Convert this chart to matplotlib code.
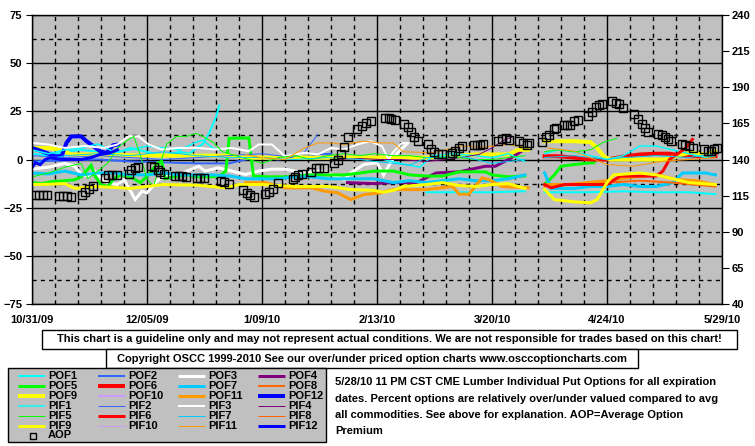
import numpy as np
import matplotlib
matplotlib.use("Agg")
import matplotlib.pyplot as plt
from matplotlib.patches import Rectangle

plt.rcParams['font.family'] = ['Liberation Sans', 'DejaVu Sans']
plt.rcParams['font.weight'] = 'bold'
plt.rcParams['font.size'] = 8

nan = np.nan

# ---------------------------
# Data (x = days since 10/31/09, y = % over/under valued)
# ---------------------------
date_ticks = [0, 35, 70, 105, 140, 175, 210]
date_labels = ["10/31/09", "12/05/09", "1/09/10", "2/13/10", "3/20/10", "4/24/10", "5/29/10"]
left_ticks = [75, 50, 25, 0, -25, -50, -75]
right_ticks = [240, 215, 190, 165, 140, 115, 90, 65, 40]

pof1 = [(0, 3), (5, 2), (10, 4), (15, 5), (20, 4), (25, 3), (30, 6), (35, 4), (40, 2), (45, 4),
        (48, 3), (50, 6), (52, 8), (54, 14), (56, 22), (57, 28), (58, nan),
        (120, -17), (130, -17), (140, -17), (150, -16.5), (152, nan),
        (156, -17), (170, -17), (180, -16.5), (190, -17), (200, -17), (208, -18)]
pif1 = [(0, 5), (5, 3), (10, 5), (15, 6), (20, 8), (25, 4), (30, 5), (35, 7), (40, 6), (45, 5),
        (50, 9), (52, 10), (55, 6), (57, 5), (58, nan),
        (107, 0), (112, -2), (118, -4), (122, 2), (128, 3), (135, 2), (140, 1), (145, 3), (150, -1), (152, nan),
        (156, 3), (160, 5), (165, 4), (170, 2), (175, 0), (180, 2), (185, 7), (190, 7), (195, 5),
        (200, 3), (205, 1), (208, 2)]
pof2 = [(0, -1), (10, -0.5), (20, 0), (30, -1), (40, -1.5), (50, -2), (60, -2), (65, 0), (70, 1),
        (75, 0), (80, 1), (85, 1.7), (88, 2.6), (91, 3)]
pif2 = [(0, 2), (10, 1), (20, 2), (30, 1), (40, 0), (50, 1), (60, 2), (70, 3), (75, 2), (79, 1),
        (83, 4), (87, 13)]
pof3 = [(0, -5), (5, -4), (10, -2), (13, -3.5), (15, -7.8), (17, -8.6), (19, -6), (21, -9.5),
        (23, -12), (26, -13), (28, -10.4), (30, -16.4), (31.4, -20.8), (33.5, -16.4), (35, -17.3),
        (38.5, -10.4), (42.6, -7.8), (44.6, -7.8), (50.7, -3.5), (52.7, -6), (56.8, -4.3), (65, -7.8),
        (69, -6), (73, -5), (77, -5), (83, -7), (88, -6), (91, -7.8), (95, -10.4), (97, -7),
        (101, -2.6), (105, -1.7), (107, -8), (109, -2), (111, 3), (114, 8)]
pif3 = [(0, 8.6), (5, 7.8), (10, 6), (16, 7), (22, 6), (26, 7.8), (29.4, 12), (32.4, 12), (35.5, 7.8),
        (39.5, 5.2), (44.6, 6), (50.7, 6), (55.8, 5.2), (60.8, 6), (66, 4.3), (69, 7.8), (73, 7.8),
        (77, 1.7), (83, 3.5), (87, 2.6), (91, 6), (95, 5.2), (99, 7.8), (103, 9.5), (106.5, 6.9),
        (108.5, 0), (110, 4), (112.5, 8.5), (114.5, 8.5)]
pof4 = [(96, -12), (104, -12.5), (110, -12), (117, -12), (120, -9.5), (123, -7), (130, -6.4),
        (138, -3.5), (141, -3.5), (145, 0), (149, 4.3)]
pif4 = [(93, 0), (100, 0.5), (106, 0), (112, 0), (120, -1), (126, 0), (130, 0.9), (136, 2.6),
        (140, 6), (144, 10.4), (146, 11.5)]
pof5 = [(0, -12), (3, -12.5), (6, -11.5), (10, -11), (13, -10.5), (15, -9), (17, -5), (18, -3),
        (19, -8), (21, -13), (23, -14), (25, -10), (27, -8), (30, -9), (33, -12), (36, -7), (38, -2),
        (39.5, -1), (40.5, -10), (43, -9), (47, -8), (50, -9), (54, -9), (57, -8.7), (59, -6),
        (60, 11), (66, 11.2), (67.4, -8.6), (72, -9), (78, -9), (84, -8), (90, -8), (95, -8),
        (100, -7), (104, -6), (110, -6), (115, -8), (120, -8.6), (125, -8.6), (130, -6.4),
        (138, -6.4), (140, -8), (145, -9), (150, -8.5), (152, nan),
        (156, -13), (159, -8), (161, -3.5), (165, -2.6), (170, -1.7), (171, -1.7)]
pif5 = [(0, -9), (5, -7), (10, -4), (15, -2), (17, -10), (20, -6), (23, -2), (26, 6), (29, 10),
        (31, 12), (33, 2), (35, -10), (37, -14), (39, -2), (41, 8), (44, 12), (47, 12), (50, 13.5),
        (52, 12), (55, 9), (58, 4), (62, 2), (66, 0), (70, -2), (75, 1), (80, 2), (85, 0), (90, 2),
        (95, 3), (100, 2), (104, 3), (110, 2), (115, 2), (120, 1), (125, 1), (130, 1), (135, 0),
        (140, 0), (145, 1), (150, 2), (152, nan),
        (156, 4), (160, 5), (165, 4), (170, 5), (174, 9), (178, 11)]
pof6 = [(156, 1.7), (160, 1.7), (165, 1), (170, 0), (175, 0), (180, 1.5), (185, 2.6), (190, 3),
        (194, 3), (199, 1.7), (208, 1.7)]
pif6 = [(156, -13), (158, -14.7), (162, -13), (170, -13), (175, -13), (179, -8.6), (185, -8.6),
        (190, -8.6), (192, -6), (194, 0), (197, 3.5), (199, 6), (201, 10.4)]
pof7 = [(0, -7), (5, -7.5), (10, -6), (15, -8), (20, -7), (25, -7), (30, -8), (35, -8), (40, -7),
        (45, -8), (50, -8), (55, -8), (60, -8.5), (65, -10), (70, -10), (75, -10), (80, -9),
        (85, -9), (90, -10), (95, -10), (100, -10), (104, -10), (110, -12), (115, -11), (120, -12),
        (125, -11), (130, -10), (135, -11), (140, -11), (145, -10), (150, -8), (152, nan),
        (156, -7), (158, -15), (165, -15), (170, -14), (175, -14), (180, -13), (185, -14),
        (190, -14), (195, -12), (198, -7), (205, -7), (208, -8)]
pif7 = [(0, -2), (10, 2), (20, 3), (30, 2), (40, 4), (50, 2), (60, 1), (70, 1), (80, 0), (90, 1),
        (100, 0), (104, -1), (110, -2), (115, -3), (120, 1), (130, 2), (140, -2), (150, 0), (152, nan),
        (156, 1), (165, 2), (170, 1), (175, 0), (180, 1), (190, 2), (200, 1), (208, 3)]
pof8 = [(156, -14), (165, -13), (175, -12), (185, -11), (195, -12), (208, -14)]
pif8 = []
pof9 = [(0, 6), (5, 6), (9, 5), (12, 2.6), (20, 2.6), (30, 2.2), (40, 2), (50, 2), (60, 2), (65, 1),
        (80, 1), (95, 1), (104, 1), (110, 1), (120, 1), (125, 1.7), (135, 2.6), (145, 2.6),
        (148, 5), (151, 5), (152, nan),
        (156, 9.5), (160, 9.5), (165, 9.5), (170, 9), (172, 6), (174, 1.7), (176, 0), (185, 0),
        (193, 0), (196, 1.7), (200, 3.5), (205, 2.6), (208, 4)]
pif9 = [(0, -13), (6, -12.8), (10, -12.5), (13, -15), (19, -14), (25, -14.5), (30, -15), (40, -13),
        (50, -13.3), (59, -14.7), (63, -13), (70, -13), (80, -14), (90, -14), (97, -15.6),
        (104, -16), (107, -17), (110, -16), (113, -14), (120, -13), (125, -12), (130, -13.5),
        (135, -14), (140, -13), (145, -12.5), (150, -15), (152, nan),
        (156, -15.6), (159, -20.8), (165, -22), (170, -22.5), (172, -20.8), (175, -12), (177, -8),
        (185, -7), (190, -8), (195, -10), (200, -12), (208, -13)]
pof10 = []
pif10 = []
pof11 = [(65, -12), (71, -12), (77, -14.7), (85, -14.7), (89, -16.4), (93, -17.3), (97, -20.8),
         (101, -18.2), (106, -17.3), (110, -15.6), (120, -15.6), (128, -14), (130, -18), (133, -18),
         (137, -9.5), (139, -10.4), (143, -14), (151, -14.7), (152, nan),
         (157, -13), (163, -13), (175, -11), (181, -9.5), (190, -7.8), (196, -10.4), (202, -11),
         (208, -13)]
pif11 = [(65, 2.6), (70, 0.9), (77, 0), (83, 6), (87, 8.6), (91, 8.6), (95, 7.8), (101, 9.5),
         (106, 8.6), (110, 8.6), (113, 4), (122, 3.5), (131, 7), (137, 6.4), (145, 7.8), (151, 6),
         (152, nan),
         (157, 6), (165, 4.3), (175, -2.6), (183, -3.5), (192, -0.9), (200, 0), (208, 0.9)]
pof12 = [(0, 6), (3, 4.3), (7, 1.7), (9, 1.7), (10.5, 8.7), (12, 12), (15, 12), (16.6, 9.5),
         (18.7, 6.9), (20.7, 4.3), (22.7, 3.4), (24.7, 7.4), (26.3, 7.8)]
pif12 = [(0, -4.3), (1, -1.7), (2.5, -2.6), (4, 0), (5.5, 0.9), (9, 0), (15, 0), (18, 1),
         (20.7, 2.6), (23.7, 3.4), (26, 5)]

# Average option premium (right axis)
aop_days = [1, 2.2, 3.4, 4.7, 8.1, 9.3, 10.5, 12, 15.2, 16.2, 17.4, 18.5, 22.1, 23.1, 24.3, 26,
            29.4, 30.2, 31.4, 32.4, 36.3, 37.1, 38.3, 39.1, 40.2, 43.4, 44.6, 45.8, 46.8,
            50.1, 51.1, 52.3, 57.4, 58.4, 60, 64.1, 65.5, 66.3, 67.7, 71, 72.2, 73.2, 75,
            79.3, 80.1, 81.1, 82.1, 85, 86.4, 87.4, 89, 91.9, 93.1, 94.1, 94.9, 96.3,
            99, 100.4, 101.6, 103.2, 107.4, 108.5, 109.3, 110.5, 113.1, 114.3, 115.4, 116.4, 117.6,
            120.4, 121.4, 122.2, 123.5, 124.7, 127.1, 127.9, 128.7, 130, 131,
            134.4, 135.4, 136.4, 137.3, 141.7, 142.9, 144.2, 145.2, 148.2, 149.4, 150.6, 151.2,
            155.3, 156.5, 157.3, 159, 159.6, 161.8, 162.8, 163.8, 165, 166.1,
            169.3, 170.5, 171.5, 172.5, 173.6, 176.4, 177.6, 178.8, 179.8,
            183.3, 184.5, 185.5, 186.5, 187.5, 190.6, 191.6, 192.6, 193.6, 194.4,
            197.7, 198.7, 199.9, 201.3, 204.6, 205.6, 206.6, 207.6, 208.4]
aop_vals = [115.3, 115.3, 115.3, 115.3, 114.6, 114.6, 114.6, 114.3, 115.3, 117.6, 119.5, 121.8,
            127.1, 129.6, 129.6, 129.6, 130.1, 132.9, 134.2, 134.7, 135.4, 135.1, 132.9, 131.5, 130.1,
            128.5, 128.5, 128.5, 128.1, 127.3, 127.3, 127.3, 124.8, 124.1, 122.7,
            119.2, 116.7, 115.3, 114.2, 115.8, 117.6, 119.9, 123.4, 126.4, 128.1, 129.6, 130.1,
            131.5, 134.2, 133.8, 133.8, 137.5, 140, 143.5, 148.8, 155.5,
            161.2, 163.5, 165.4, 166.5, 168.4, 168.4, 167.9, 167, 164.7, 162.8, 159.2, 155.5, 153.1,
            150.4, 147.6, 145.3, 143.9, 143.5, 143, 144.4, 145.8, 148.1, 149,
            149.9, 149.9, 149.9, 150.4, 153.1, 154.5, 155, 153.6, 152.7, 151.3, 149.9, 151.3,
            152.2, 155.9, 157.3, 161, 161.9, 163.8, 163.8, 163.8, 166.5, 167.5,
            169.8, 173, 176.2, 177.6, 178.1, 180.4, 179.4, 178.1, 175.8,
            171.6, 167.9, 164.7, 161.9, 159.2, 157.8, 156.8, 155.5, 154.5, 152.7,
            150.8, 149.9, 149, 148.1, 147.1, 146.2, 145.8, 147.1, 148.1]

series_names = ["POF1", "POF2", "POF3", "POF4", "POF5", "POF6", "POF7", "POF8", "POF9", "POF10", "POF11", "POF12",
                "PIF1", "PIF2", "PIF3", "PIF4", "PIF5", "PIF6", "PIF7", "PIF8", "PIF9", "PIF10", "PIF11", "PIF12"]
series_data = [pof1, pof2, pof3, pof4, pof5, pof6, pof7, pof8, pof9, pof10, pof11, pof12,
               pif1, pif2, pif3, pif4, pif5, pif6, pif7, pif8, pif9, pif10, pif11, pif12]

# ---------------------------
# Styles
# ---------------------------
month_colors = ['#00FFFF', '#3366FF', '#FFFFFF', '#800080', '#00FF00', '#FF0000',
                '#00CCFF', '#FF6600', '#FFFF00', '#CC99FF', '#FF9900', '#0000FF']
pof_px = [2, 2, 3, 3, 3, 4, 3, 2, 4, 2, 3, 4]
pif_px = [1.5, 1, 2, 1, 1, 3, 1, 1, 3, 1, 1, 3]
colors = month_colors + month_colors
widths = [p * 0.72 for p in pof_px + pif_px]

W, H = 755, 446
fig = plt.figure(figsize=(W / 100, H / 100), dpi=100)
fig.patch.set_facecolor('white')

ax = fig.add_axes([32 / W, 1 - 304 / H, 690 / W, 289 / H])
ax.set_facecolor('#C0C0C0')
ax.set_xlim(0, 210)
ax.set_ylim(-75, 75)

# grid
ax.set_xticks(date_ticks)
ax.set_xticks(np.arange(0, 211, 7), minor=True)
ax.set_yticks(left_ticks)
ax.set_yticks(np.arange(-62.5, 75, 25), minor=True)
ax.set_xticklabels(date_labels)
ax.grid(which='major', color='black', lw=1.0, ls='-')
ax.grid(which='minor', color='black', lw=1.0, ls=(0, (3, 3)))
ax.set_axisbelow('line')
ax.tick_params(axis='x', which='both', length=0, pad=8, labelsize=8)
ax.tick_params(axis='y', which='major', length=4, pad=3, labelsize=8, direction='out')
ax.tick_params(axis='y', which='minor', length=0)
for s in ax.spines.values():
    s.set_color('black')
    s.set_linewidth(1)

for name, pts, c, lw in zip(series_names, series_data, colors, widths):
    if not pts:
        continue
    d = [p[0] for p in pts]
    v = [p[1] for p in pts]
    ax.plot(d, v, color=c, lw=lw, solid_joinstyle='miter')

ax2 = ax.twinx()
ax2.set_ylim(40, 240)
ax2.set_yticks(right_ticks)
ax2.tick_params(axis='y', length=5, pad=2, labelsize=8)
ax2.plot(aop_days, aop_vals, ls='none', marker='s', ms=5.5, mfc='none', mec='black', mew=1.0)
for s in ax2.spines.values():
    s.set_visible(False)

# ---------------------------
# Notes and legend (pixel coords overlay)
# ---------------------------
ov = fig.add_axes([0, 0, 1, 1])
ov.set_xlim(0, W)
ov.set_ylim(H, 0)
ov.axis('off')

ov.add_patch(Rectangle((42, 330), 695, 19, fc='white', ec='black', lw=1))
ov.text(389.5, 339.5, "This chart is a guideline only and may not represent actual conditions. "
        "We are not responsible for trades based on this chart!", ha='center', va='center', fontsize=8)
ov.add_patch(Rectangle((106, 349), 532, 19, fc='white', ec='black', lw=1))
ov.text(372, 358.5, "Copyright OSCC 1999-2010 See our over/under priced option charts www.osccoptioncharts.com",
        ha='center', va='center', fontsize=8)

ov.add_patch(Rectangle((8, 368), 318, 74, fc='#C0C0C0', ec='black', lw=1))
row_y = [376, 386, 396, 406, 416, 426]
col_x = [18, 98, 178, 258]
order = ["POF1", "POF2", "POF3", "POF4", "POF5", "POF6", "POF7", "POF8", "POF9", "POF10", "POF11", "POF12",
         "PIF1", "PIF2", "PIF3", "PIF4", "PIF5", "PIF6", "PIF7", "PIF8", "PIF9", "PIF10", "PIF11", "PIF12"]
for i, name in enumerate(order):
    r, c = divmod(i, 4)
    k = series_names.index(name)
    x0 = col_x[c]
    ov.plot([x0, x0 + 27], [row_y[r], row_y[r]], color=colors[k], lw=widths[k], solid_capstyle='butt')
    ov.text(x0 + 30, row_y[r], name, ha='left', va='center', fontsize=8)
ov.plot([33], [435.5], ls='none', marker='s', ms=5, mfc='none', mec='black', mew=1.0)
ov.text(48, 435.5, "AOP", ha='left', va='center', fontsize=8)

note_lines = ["5/28/10 11 PM CST CME Lumber Individual Put Options for all expiration",
              "dates. Percent options are relatively over/under valued compared to avg",
              "all commodities. See above for explanation. AOP=Average Option",
              "Premium"]
for j, line in enumerate(note_lines):
    ov.text(335, 382 + j * 16.5, line, ha='left', va='center', fontsize=8)

fig.savefig("out.png", dpi=100)
